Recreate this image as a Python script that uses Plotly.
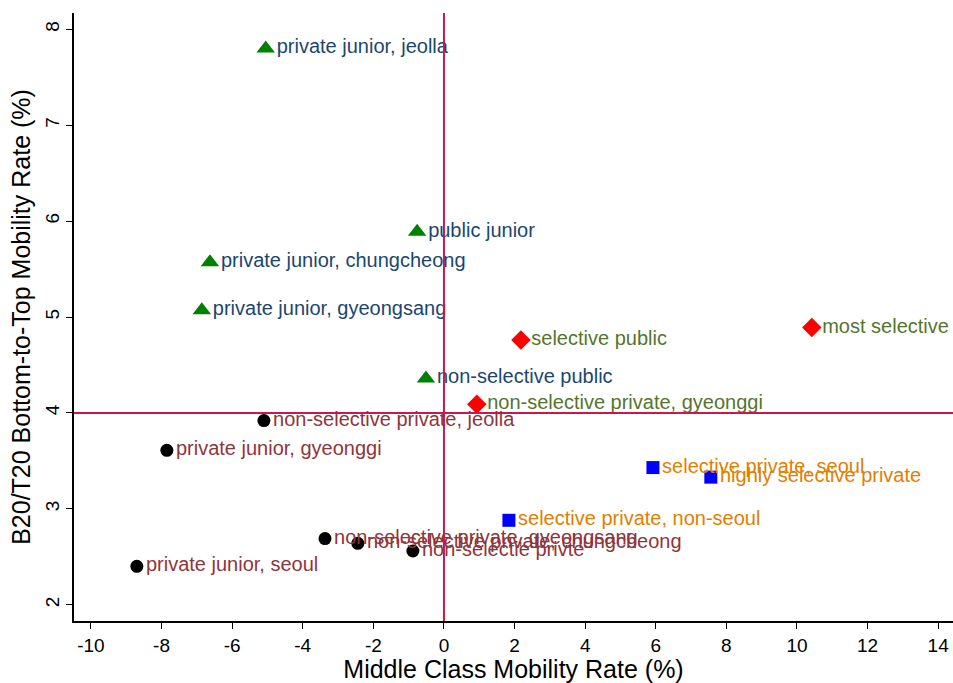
import plotly.graph_objects as go

# Public / junior colleges (triangles)
junior_labels = ["private junior, jeolla", "public junior", "private junior, chungcheong",
                 "private junior, gyeongsang", "non-selective public"]
junior_x = [-5.05, -0.76, -6.63, -6.86, -0.51]
junior_y = [7.80, 5.89, 5.57, 5.07, 4.36]

# Selective public / most selective (diamonds)
public_labels = ["selective public", "most selective", "non-selective private, gyeonggi"]
public_x = [2.18, 10.42, 0.93]
public_y = [4.76, 4.89, 4.09]

# Selective private (squares)
private_labels = ["selective private, seoul", "highly selective private", "selective private, non-seoul"]
private_x = [5.92, 7.56, 1.84]
private_y = [3.43, 3.33, 2.88]

# Non-selective private and private junior (circles)
nonsel_labels = ["non-selective private, jeolla", "private junior, gyeonggi", "private junior, seoul",
                 "non-selective private, gyeongsang", "non-selective private, chungcheong",
                 "non-selectie privte"]
nonsel_x = [-5.10, -7.85, -8.70, -3.37, -2.44, -0.88]
nonsel_y = [3.92, 3.61, 2.40, 2.69, 2.64, 2.56]

x_ticks = [-10, -8, -6, -4, -2, 0, 2, 4, 6, 8, 10, 12, 14]
x_ticktext = ["-10", "-8", "-6", "-4", "-2", "0", "2", "4", "6", "8", "10", "12", "14"]
y_ticks = [2, 3, 4, 5, 6, 7, 8]
x_ref, y_ref = 0, 4

FONT = "Liberation Sans, Arial, Helvetica, sans-serif"

groups = [
    (junior_labels, junior_x, junior_y, "triangle-up", "#008000", 16, "#1a476f"),
    (public_labels, public_x, public_y, "diamond", "#ff0000", 15, "#55752f"),
    (private_labels, private_x, private_y, "square", "#0000ff", 13, "#e37e00"),
    (nonsel_labels, nonsel_x, nonsel_y, "circle", "#000000", 13, "#90353b"),
]

fig = go.Figure()
for labels, xs, ys, sym, mcol, msize, tcol in groups:
    fig.add_trace(go.Scatter(
        x=xs, y=ys, text=labels, mode="markers+text",
        textposition="middle right",
        marker=dict(symbol=sym, color=mcol, size=msize, line=dict(width=0)),
        textfont=dict(family=FONT, size=20, color=tcol),
        showlegend=False, cliponaxis=False,
    ))

line_col = "#c8194b"
fig.add_shape(type="line", xref="x", yref="paper", x0=x_ref, x1=x_ref, y0=0, y1=1,
              line=dict(color=line_col, width=2), layer="above")
fig.add_shape(type="line", xref="paper", yref="y", x0=0, x1=1, y0=y_ref, y1=y_ref,
              line=dict(color=line_col, width=2), layer="above")

fig.update_layout(
    width=953, height=683,
    margin=dict(l=74, r=0, t=13, b=62),
    paper_bgcolor="white", plot_bgcolor="white",
    font=dict(family=FONT, color="black"),
    xaxis=dict(range=[-10.48, 14.42], tickvals=x_ticks, ticktext=x_ticktext,
               showgrid=False, zeroline=False,
               showline=True, linecolor="black", linewidth=1.5, ticks="outside",
               ticklen=6, tickcolor="black", tickfont=dict(size=19),
               title=dict(text="Middle Class Mobility Rate (%)", font=dict(size=25), standoff=2)),
    yaxis=dict(range=[1.83, 8.17], tickvals=y_ticks, showgrid=False, zeroline=False,
               showline=True, linecolor="black", linewidth=1.5, ticks="outside",
               ticklen=6, tickcolor="black", tickfont=dict(size=19), tickangle=-90,
               title=dict(text="B20/T20 Bottom-to-Top Mobility Rate (%)", font=dict(size=25), standoff=4)),
)

fig.write_html("out.html")
